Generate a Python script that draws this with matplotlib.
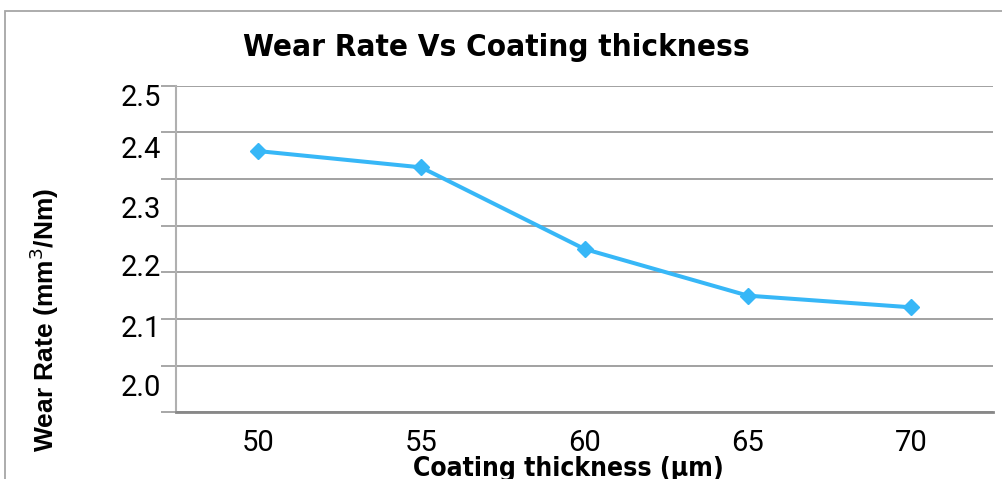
import matplotlib.pyplot as plt
import matplotlib.patches as patches
from matplotlib import font_manager
import numpy as np

# wear rate for each coating thickness
thickness = ['50', '55', '60', '65', '70']
wear_rate = [2.36, 2.325, 2.15, 2.05, 2.025]

# value axis: grid every 0.1, labels printed on the stretched scale
grid_values = [1.8, 1.9, 2.0, 2.1, 2.2, 2.3, 2.4, 2.5]
ytick_labels = ['2.5', '2.4', '2.3', '2.2', '2.1', '2.0']
ylabel_pos = [2.480, 2.369, 2.241, 2.116, 1.984, 1.859]

W, H = 1002, 479
fig = plt.figure(figsize=(W / 100, H / 100), dpi=100)
fig.patch.set_facecolor('white')

# outer chart frame (runs off the right and bottom edge)
frame = patches.Rectangle((5 / W, -0.1), 1.2, 1 - 11 / H + 0.1, transform=fig.transFigure,
                          fill=False, edgecolor='#a6a6a6', linewidth=1.3, clip_on=False)
fig.add_artist(frame)

left, right = 176 / W, 993 / W
bottom, top = 1 - 412.3 / H, 1 - 85.7 / H
ax = fig.add_axes([left, bottom, right - left, top - bottom])

x = np.arange(len(thickness))
ax.plot(x, wear_rate, color='#37b7f7', linewidth=2.9, marker='D', markersize=8,
        markeredgecolor='#37b7f7', markerfacecolor='#37b7f7', zorder=3)

ax.set_xlim(-0.5, len(thickness) - 0.5)
ax.set_ylim(1.8, 2.5)

# gridlines + outward ticks on the value axis
ax.set_yticks(grid_values)
ax.set_yticklabels([])
ax.tick_params(axis='y', which='major', direction='out', length=11, width=1.3, color='#a0a0a0')
ax.yaxis.grid(True, color='#9a9a9a', linewidth=1.3)
ax.set_axisbelow(True)

ax.set_yticks(ylabel_pos, minor=True)
ax.set_yticklabels(ytick_labels, minor=True, fontsize=21, family='Roboto')
ax.tick_params(axis='y', which='minor', length=0, pad=11)

ax.set_xticks(x)
ax.set_xticklabels(thickness, fontsize=21, family='Roboto')
ax.tick_params(axis='x', length=0, pad=12)

for side in ['top', 'right']:
    ax.spines[side].set_visible(False)
ax.spines['left'].set_color('#b0b0b0')
ax.spines['left'].set_linewidth(1.5)
ax.spines['bottom'].set_color('#888888')
ax.spines['bottom'].set_linewidth(2)

# narrow bold face if one is installed
names = {f.name for f in font_manager.fontManager.ttflist}
if 'DejaVu Sans Condensed' in names:
    narrow = dict(family='DejaVu Sans Condensed')
else:
    narrow = dict(family='DejaVu Sans', fontstretch='condensed')

fig.text(496 / W, 1 - 47 / H, 'Wear Rate Vs Coating thickness', ha='center', va='center',
         fontsize=22.5, fontweight='bold', **narrow)
fig.text(568 / W, 1 - 469 / H, 'Coating thickness (μm)', ha='center', va='center',
         fontsize=19, fontweight='bold', **narrow)
fig.text(44 / W, 1 - 320 / H, 'Wear Rate (mm$^3$/Nm)', ha='center', va='center', rotation=90,
         fontsize=19, fontweight='bold', family=['Liberation Sans', 'DejaVu Sans'])

fig.savefig('out.png', dpi=100)
